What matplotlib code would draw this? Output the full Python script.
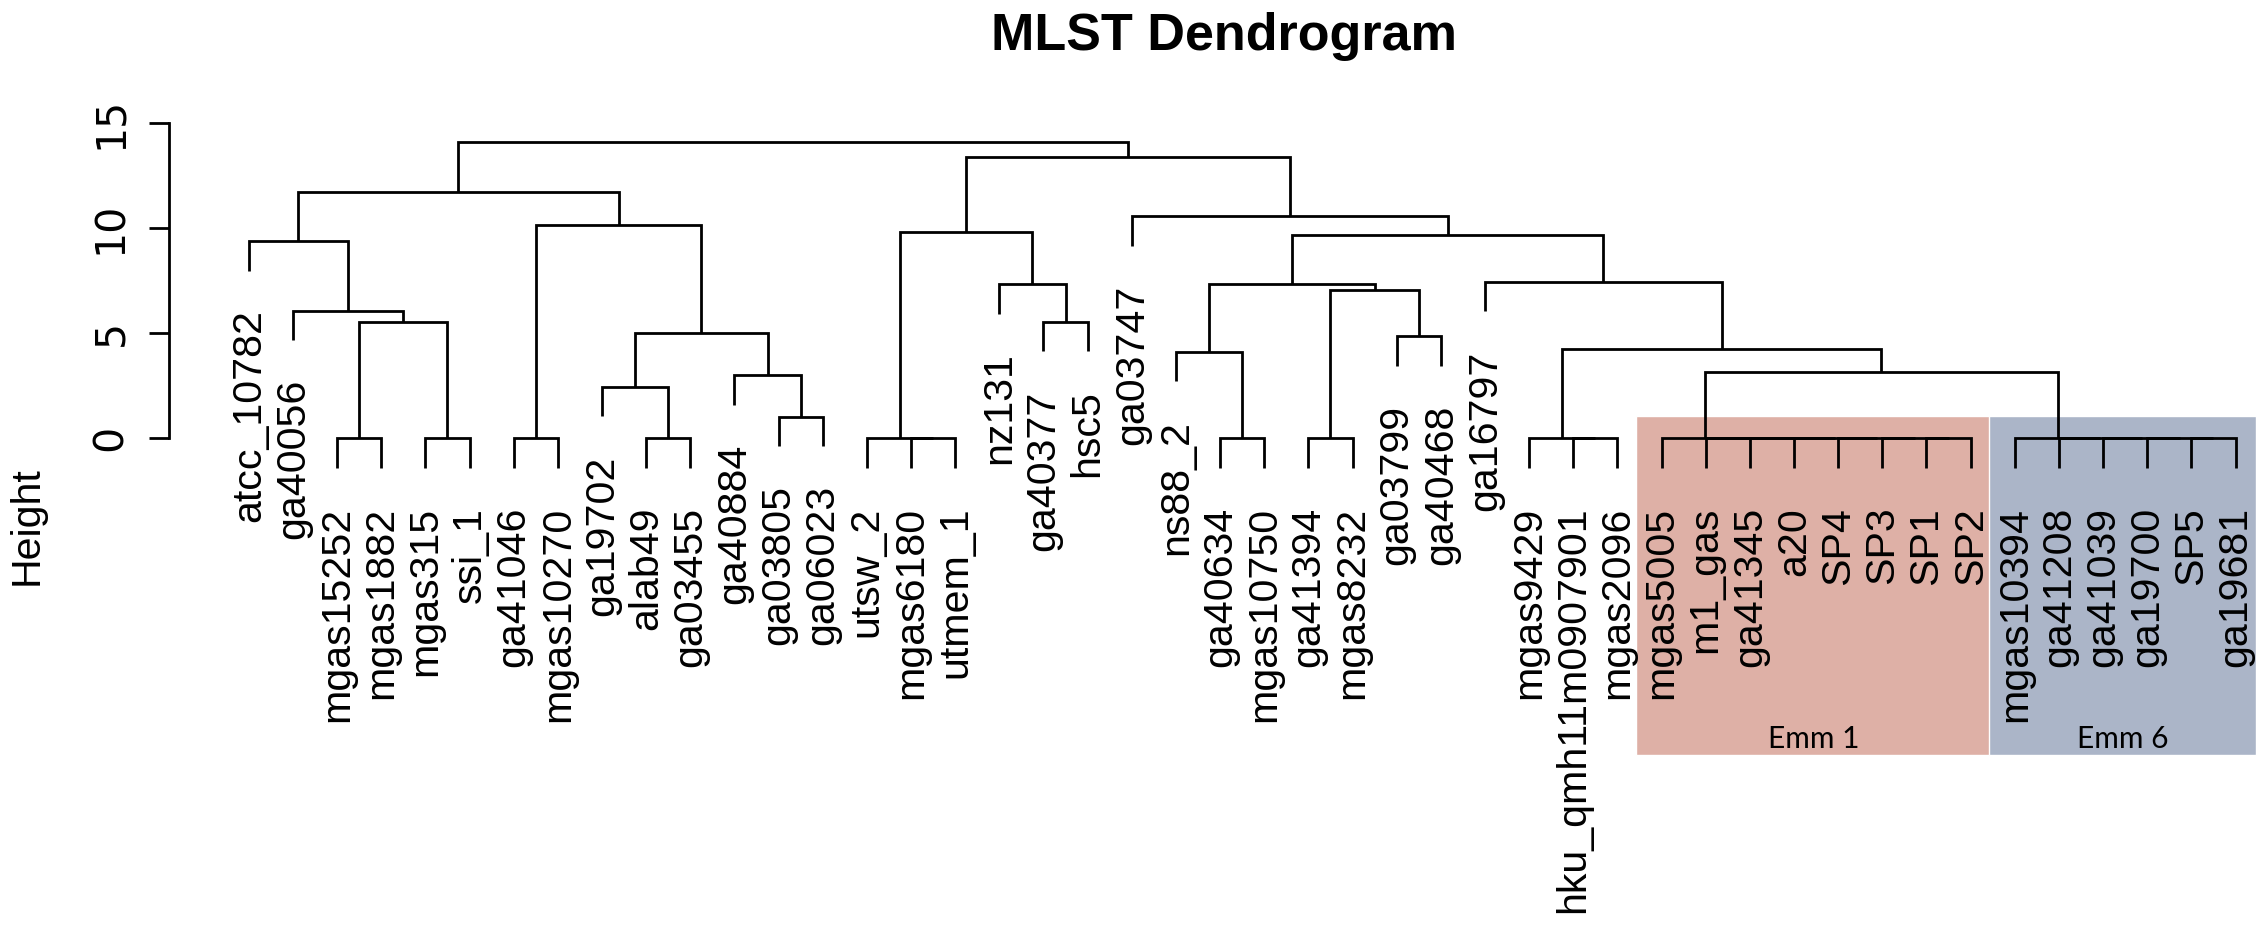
import matplotlib.pyplot as plt
from matplotlib.patches import Rectangle

# leaves in plotted order
labels = ["atcc_10782", "ga40056", "mgas15252", "mgas1882", "mgas315", "ssi_1",
          "ga41046", "mgas10270", "ga19702", "alab49", "ga03455", "ga40884",
          "ga03805", "ga06023", "utsw_2", "mgas6180", "utmem_1", "nz131",
          "ga40377", "hsc5", "ga03747", "ns88_2", "ga40634", "mgas10750",
          "ga41394", "mgas8232", "ga03799", "ga40468", "ga16797", "mgas9429",
          "hku_qmh11m0907901", "mgas2096", "mgas5005", "m1_gas", "ga41345", "a20",
          "SP4", "SP3", "SP1", "SP2", "mgas10394", "ga41208", "ga41039",
          "ga19700", "SP5", "ga19681"]

# hclust style merge table: negative = leaf number, positive = earlier merge row
merge_a = [-3, -5, -7, -10, -16, -15, -23, -25, -31, -30, -39, -38, -37, -36, -35,
           -34, -33, -45, -44, -43, -42, -41,
           -13, -9, -12, 17, -22, 10, -27, 24, -19, 1, -2, 8, 27, -18, -29, -1,
           35, 6, 3, -21, 38, 40, 43]
merge_b = [-4, -6, -8, -11, -17, 5, -24, -26, -32, 9, -40, 11, 12, 13, 14,
           15, 16, -46, 18, 19, 20, 21,
           -14, 4, 23, 22, 7, 26, -28, 25, -20, 2, 32, 29, 34, 31, 28, 33,
           37, 36, 30, 39, 41, 42, 44]
heights = [0] * 22 + [1.03, 2.46, 3.01, 3.17, 4.12, 4.24, 4.87, 5.0, 5.55, 5.55,
                      6.08, 7.06, 7.33, 7.35, 7.46, 9.40, 9.67, 9.84, 10.16, 10.59,
                      11.74, 13.38, 14.10]

groups = ["Emm 1", "Emm 6"]
group_first = [33, 41]
group_last = [40, 46]
group_colors = ["#deb0a6", "#abb5c8"]

hang = 0.1 * max(heights)
lw = 2.0
W, H = 2267, 950

fig = plt.figure(figsize=(W / 100, H / 100), dpi=100)
# axes placed so leaf 1 lands at x=1 and the y spine sits at R's usr left edge
x_left, y_bot = -0.8, -2.0
px_per_x, px_per_y = 44.15, 21.0
ax_l, ax_top = 169.3, 123.3
ax_b = ax_top + (15 - y_bot) * px_per_y
ax = fig.add_axes([ax_l / W, 1 - ax_b / H, (W - ax_l) / W, (ax_b - ax_top) / H])
ax.set_xlim(x_left, x_left + (W - ax_l) / px_per_x)
ax.set_ylim(y_bot, 15)

plt.rcParams['font.family'] = ['Liberation Sans', 'DejaVu Sans']

# group boxes under everything
box_top, box_bot = 1.08, -15.08
for name, a, b, c in zip(groups, group_first, group_last, group_colors):
    x0 = a - 0.58
    x1 = b + 0.47
    rect = Rectangle((x0, box_bot), x1 - x0, box_top - box_bot, facecolor=c,
                     edgecolor='white', lw=1.0, zorder=0, clip_on=False)
    ax.add_patch(rect)
    ax.text((x0 + x1) / 2, -14.76, name, ha='center', va='baseline',
            fontsize=21.5, family=['Lato', 'DejaVu Sans'], zorder=3, clip_on=False)

node_x = []
leaf_bottom = {}
for i in range(len(heights)):
    h = heights[i]
    pts = []
    for child in (merge_a[i], merge_b[i]):
        if child < 0:
            cx = -child
            cy = h - hang
            leaf_bottom[cx] = cy
        else:
            cx = node_x[child - 1]
            cy = heights[child - 1]
        pts.append((cx, cy))
    node_x.append((pts[0][0] + pts[1][0]) / 2)
    ax.plot([pts[0][0], pts[0][0], pts[1][0], pts[1][0]],
            [pts[0][1], h, h, pts[1][1]], color='black', lw=lw,
            solid_capstyle='butt', solid_joinstyle='miter', clip_on=False, zorder=2)

for i, lab in enumerate(labels, start=1):
    ax.annotate(lab, xy=(i, leaf_bottom[i]), xytext=(0, -28), textcoords='offset points',
                rotation=90, ha='center', va='top', fontsize=29.6, color='black',
                annotation_clip=False, zorder=3)

for s in ['top', 'right', 'bottom']:
    ax.spines[s].set_visible(False)
ax.spines['left'].set_bounds(0, 15)
ax.spines['left'].set_linewidth(lw)
ax.set_xticks([])
ax.set_yticks([0, 5, 10, 15])
ax.tick_params(axis='y', length=14.4, width=lw, pad=13, labelsize=29.6)
for t in ax.get_yticklabels():
    t.set_rotation(90)
    t.set_va('center')
ax.patch.set_alpha(0)

fig.text(27 / W, 1 - 526 / H, "Height", rotation=90, ha='center', va='center', fontsize=29.6)
fig.text(1224 / W, 1 - 50 / H, "MLST Dendrogram", ha='center', va='baseline',
         fontsize=37.5, fontweight='bold')

fig.savefig("out.png", dpi=100)
